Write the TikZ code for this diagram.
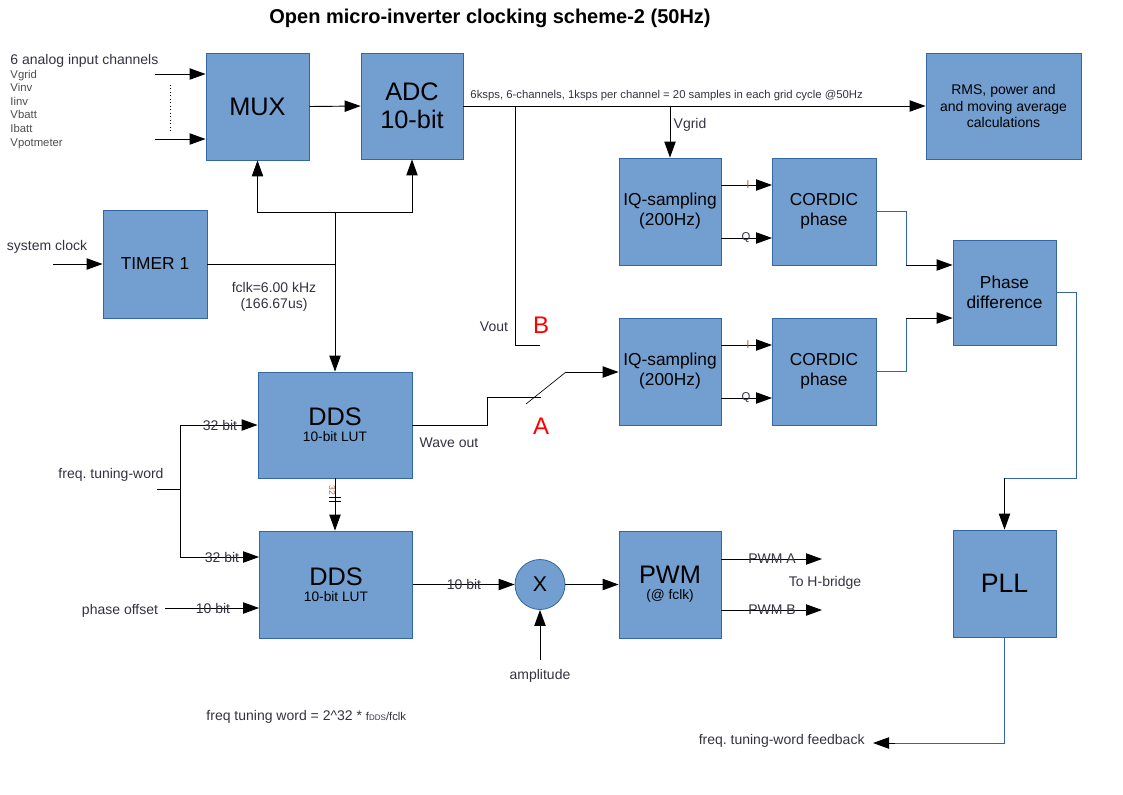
\documentclass[tikz,border=0pt]{standalone}
\usepackage{fontspec}
\setmainfont{Liberation Sans}
\usetikzlibrary{arrows.meta}
\frenchspacing
\definecolor{boxfill}{HTML}{729FCF}
\definecolor{boxline}{HTML}{3465A4}
\definecolor{txt}{HTML}{333340}
\definecolor{chan}{HTML}{4D4D4D}
\definecolor{ibit}{HTML}{B46A3C}
\tikzset{
	blk/.style 2 args={draw=boxline,fill=boxfill,minimum width=#1*0.75pt,minimum height=#2*0.75pt,inner sep=0pt,align=center,line width=0.6pt},
	arr/.style={-{Triangle[length=12pt,width=8.5pt]},line width=0.7pt},
	bline/.style={draw=boxline,line width=0.7pt},
	lbl/.style={font=\fontsize{10.5}{12.5}\selectfont,text=txt,inner sep=0pt},
	small/.style={font=\fontsize{8.5}{10.2}\selectfont,text=chan,inner sep=0pt},
	big/.style={font=\fontsize{19}{21}\selectfont},
	mid/.style={font=\fontsize{13}{15}\selectfont},
	letter/.style={font=\fontsize{18}{20}\selectfont,text=red,inner sep=0pt}
}

\begin{document}
\begin{tikzpicture}[x=0.75pt,y=-0.75pt,line width=0.7pt]
	\useasboundingbox (0,0) rectangle (1123,794);
	\node [font=\bfseries\fontsize{15}{17}\selectfont] (title) at (490,18) {Open micro-inverter clocking scheme-2 (50Hz)};

	% blocks
	\node [blk={103}{107},big] (mux) at (257.5,106.5) {MUX};
	\node [blk={102}{106},big] (adc) at (412,106) {ADC\\10-bit};
	\node [blk={155}{106},font=\fontsize{10.5}{12.4}\selectfont] (rms) at (1003.5,106) {RMS, power and\\and moving average\\calculations};
	\node [blk={104}{108},mid] (timer) at (155,264) {TIMER 1};
	\node [blk={102}{107},mid] (iqa) at (670,211.5) {IQ-sampling\\(200Hz)};
	\node [blk={104}{107},mid] (corda) at (824,211.5) {CORDIC\\phase};
	\node [blk={102}{107},mid] (iqb) at (670,371.5) {IQ-sampling\\(200Hz)};
	\node [blk={104}{107},mid] (cordb) at (824,371.5) {CORDIC\\phase};
	\node [blk={103}{105},mid] (phd) at (1004.5,292.5) {Phase\\difference};
	\node [blk={154}{106}] (dds1) at (335,425) {{\fontsize{19}{21}\selectfont DDS}\\{\fontsize{10.3}{11}\selectfont 10-bit LUT}};
	\node [blk={153}{107}] (dds2) at (336,584.5) {{\fontsize{19}{21}\selectfont DDS}\\{\fontsize{10.3}{11}\selectfont 10-bit LUT}};
	\node [blk={102}{107}] (pwm) at (670,584.5) {{\fontsize{19}{21}\selectfont PWM}\\{\fontsize{10.3}{11}\selectfont (@ fclk)}};
	\node [blk={103}{107},font=\fontsize{20}{22}\selectfont] (pll) at (1004.5,583.5) {PLL};
	\node [circle,draw=boxline,fill=boxfill,minimum size=50*0.75pt,inner sep=0pt,line width=0.6pt,font=\fontsize{16}{18}\selectfont] (mult) at (540,584.5) {X};

	% analog inputs
	\node [lbl,anchor=west] (chtitle) at (10,61) {6 analog input channels};
	\node [small,anchor=north west,align=left] (chlist) at (10,69.5) {Vgrid\\Vinv\\Iinv\\Vbatt\\Ibatt\\Vpotmeter};
	\coordinate (in1) at (155,74);
	\coordinate (in6) at (155,139);
	\draw [arr] (in1) -- (in1 -| mux.west);
	\draw [arr] (in6) -- (in6 -| mux.west);
	\draw [dotted,line width=0.6pt] (170,85) -- (170,131);
	\draw [arr] (mux.east) -- (adc.west);

	% sample stream
	\draw [arr] (adc.east) -- (rms.west);
	\node [small,anchor=west,text=txt] (rate) at (470,96) {6ksps, 6-channels, 1ksps per channel = 20 samples in each grid cycle @50Hz};
	\coordinate (gsplit) at (iqa.north |- adc.east);
	\draw [arr] (gsplit) -- (iqa.north);
	\node [lbl] (vgrid) at (690,125) {Vgrid};
	\coordinate (vsplit) at (515,106);
	\coordinate (bpole) at (540,345);
	\draw (vsplit) |- (bpole);
	\node [lbl] (vout) at (494,327) {Vout};
	\node [letter] (lb) at (541,325) {B};

	% clock
	\coordinate (sysin) at (53,264);
	\draw [arr] (sysin) -- (timer.west);
	\node [lbl] (sysclk) at (47,247) {system clock};
	\coordinate (ckbus) at (335,212);
	\draw (timer.east) -- (timer.east -| ckbus);
	\draw [arr] (ckbus) -- (dds1.north);
	\draw [arr] (ckbus) -| (mux.south);
	\draw [arr] (ckbus) -| (adc.south);
	\node [lbl,align=center] (fclk) at (274,297) {fclk=6.00 kHz\\(166.67us)};

	% switch
	\coordinate (apole) at (541,397);
	\coordinate (swtip) at (566,372);
	\draw (dds1.east) -| (487,397) -- (apole);
	\draw [line width=0.5pt] (526,404) -- (swtip);
	\draw [arr] (swtip) -- (swtip -| iqb.west);
	\node [lbl] (wave) at (449,443) {Wave out};
	\node [letter] (la) at (541,426) {A};

	% I and Q
	\coordinate (ia) at (772,185);
	\coordinate (qa) at (772,238);
	\coordinate (ib) at (772,345);
	\coordinate (qb) at (772,398);
	\draw [arr] (ia -| iqa.east) -- (ia);
	\draw [arr] (qa -| iqa.east) -- (qa);
	\draw [arr] (ib -| iqb.east) -- (ib);
	\draw [arr] (qb -| iqb.east) -- (qb);
	\node [small,text=ibit] (ila) at (748,185) {I};
	\node [small,text=txt] (qla) at (746,238) {Q};
	\node [small,text=ibit] (ilb) at (748,345) {I};
	\node [small,text=txt] (qlb) at (746,398) {Q};

	% phase loop
	\coordinate (pa) at (906,265);
	\coordinate (pb) at (906,318);
	\draw [bline] (corda.east) -| (pa);
	\draw [arr] (pa) -- (pa -| phd.west);
	\draw [bline] (cordb.east) -| (pb);
	\draw [arr] (pb) -- (pb -| phd.west);
	\coordinate (pd1) at (1076,478);
	\coordinate (pd2) at (pll.north |- pd1);
	\draw [bline] (phd.east) -| (pd1) -- (pd2);
	\draw [arr] (pd2) -- (pll.north);
	\coordinate (fbend) at (895,743);
	\coordinate (fb) at (873,743);
	\draw [bline] (pll.south) |- (fbend);
	\draw [arr] (fbend) -- (fb);
	\node [lbl,anchor=east] (fbl) at (865,741) {freq. tuning-word feedback};

	% tuning word
	\node [lbl] (ftwl) at (111,475) {freq. tuning-word};
	\coordinate (ftwin) at (157,489);
	\coordinate (ftw) at (180,489);
	\coordinate (ftlow) at (180,557);
	\draw (ftwin) -- (ftw);
	\draw [arr] (ftw) |- (dds1.west);
	\draw [arr] (ftw) -- (ftlow) -- (ftlow -| dds2.west);
	\node [lbl] (b32a) at (220,425) {32 bit};
	\node [lbl] (b32b) at (222,557) {32 bit};
	\draw [arr] (dds1.south) -- (dds1.south |- dds2.north);
	\draw [line width=0.5pt] (329,497) -- (341,497) (329,501) -- (341,501);
	\node [small,text=ibit,rotate=-90,font=\fontsize{6.5}{7}\selectfont] (b32c) at (332,490) {32};

	% phase offset and output
	\coordinate (phin) at (165,608);
	\draw [arr] (phin) -- (phin -| dds2.west);
	\node [lbl] (phl) at (120,611) {phase offset};
	\node [lbl] (b10a) at (213,608) {10 bit};
	\draw [arr] (dds2.east) -- (mult.west);
	\node [lbl] (b10b) at (464,584) {10 bit};
	\coordinate (ampin) at (540,660);
	\draw [arr] (ampin) -- (mult.south);
	\node [lbl] (ampl) at (540,676) {amplitude};
	\draw [arr] (mult.east) -- (pwm.west);

	% PWM outputs
	\coordinate (pwma) at (822,559);
	\coordinate (pwmb) at (822,610);
	\draw [arr] (pwma -| pwm.east) -- (pwma);
	\draw [arr] (pwmb -| pwm.east) -- (pwmb);
	\node [lbl] (pwmal) at (772,559) {PWM A};
	\node [lbl] (pwmbl) at (772,610) {PWM B};
	\node [lbl] (hbr) at (825,583) {To H-bridge};

	\node [lbl,anchor=west] (formula) at (206,717) {freq tuning word = 2\^{}32 * {\fontsize{8.5}{9}\selectfont f{\fontsize{6}{7}\selectfont DDS}/fclk}};
\end{tikzpicture}
\end{document}
